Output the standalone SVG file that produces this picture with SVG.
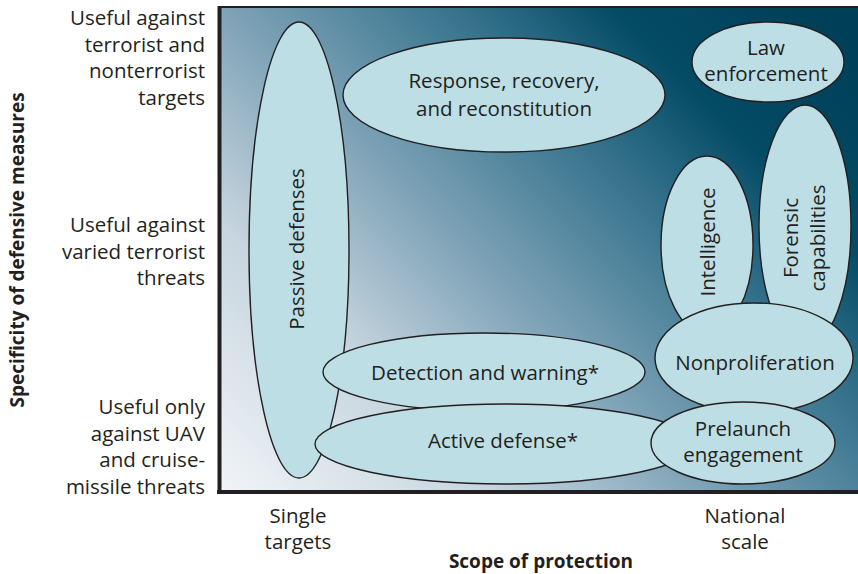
<svg xmlns="http://www.w3.org/2000/svg" width="858" height="574" viewBox="0 0 858 574">
  <defs>
    <!-- 45-degree wash: pale at lower left, deep teal at upper right -->
    <linearGradient id="field" gradientUnits="userSpaceOnUse" x1="220" y1="490" x2="760" y2="-50">
      <stop offset="0" stop-color="#f1f4f7"/>
      <stop offset="0.25" stop-color="#c6d5df"/>
      <stop offset="0.44" stop-color="#82a5b9"/>
      <stop offset="0.6" stop-color="#4a8199"/>
      <stop offset="0.69" stop-color="#2e6c86"/>
      <stop offset="0.81" stop-color="#044b65"/>
      <stop offset="1" stop-color="#003f58"/>
    </linearGradient>
  </defs>
  <style>
    .area { fill: #bddee5; stroke: #231f20; stroke-width: 1.4; }
    .lbl { font-family: "Open Sans", "Noto Sans", "DejaVu Sans", sans-serif; font-size: 20.5px; fill: #231f20; text-anchor: middle; }
    .tick { font-family: "Open Sans", "Noto Sans", "DejaVu Sans", sans-serif; font-size: 20.5px; fill: #231f20; text-anchor: end; }
    .tickc { font-family: "Open Sans", "Noto Sans", "DejaVu Sans", sans-serif; font-size: 20.5px; fill: #231f20; text-anchor: middle; }
    .axis { font-family: "Open Sans", "Noto Sans", "DejaVu Sans", sans-serif; font-size: 19px; font-weight: bold; fill: #231f20; text-anchor: middle; }
  </style>

  <rect width="858" height="574" fill="#ffffff"/>

  <!-- plot field and frame -->
  <g id="plot">
    <rect x="219" y="7" width="639" height="484" fill="url(#field)"/>
    <line x1="219" y1="7" x2="858" y2="7" stroke="#231f20" stroke-width="2"/>
    <line x1="219.5" y1="6" x2="219.5" y2="494" stroke="#231f20" stroke-width="4"/>
    <line x1="217" y1="492" x2="858" y2="492" stroke="#231f20" stroke-width="4"/>
  </g>

  <!-- vertical axis: categories and title -->
  <g id="y-axis">
    <text class="tick" x="205"><tspan x="205" y="25">Useful against</tspan><tspan x="205" y="51.5">terrorist and</tspan><tspan x="205" y="78">nonterrorist</tspan><tspan x="205" y="104.5">targets</tspan></text>
    <text class="tick" x="205"><tspan x="205" y="232">Useful against</tspan><tspan x="205" y="258.5">varied terrorist</tspan><tspan x="205" y="285">threats</tspan></text>
    <text class="tick" x="205"><tspan x="205" y="414">Useful only</tspan><tspan x="205" y="440.5">against UAV</tspan><tspan x="205" y="467">and cruise-</tspan><tspan x="205" y="493.5">missile threats</tspan></text>
    <text class="axis" transform="translate(24,250) rotate(-90)">Specificity of defensive measures</text>
  </g>

  <!-- horizontal axis: ends and title -->
  <g id="x-axis">
    <text class="tickc"><tspan x="298" y="523">Single</tspan><tspan x="298" y="549">targets</tspan></text>
    <text class="tickc"><tspan x="745" y="523">National</tspan><tspan x="745" y="549">scale</tspan></text>
    <text class="axis" x="541" y="568">Scope of protection</text>
  </g>

  <!-- measure regions -->
  <g id="passive-defenses">
    <ellipse class="area" cx="299" cy="250" rx="50" ry="228"/>
    <text class="lbl" transform="translate(304,249) rotate(-90)">Passive defenses</text>
  </g>
  <g id="response-recovery">
    <ellipse class="area" cx="504" cy="95" rx="161" ry="57"/>
    <text class="lbl"><tspan x="504" y="88">Response, recovery,</tspan><tspan x="504" y="115.5">and reconstitution</tspan></text>
  </g>
  <g id="law-enforcement">
    <ellipse class="area" cx="768" cy="62" rx="76" ry="40"/>
    <text class="lbl"><tspan x="766" y="55">Law</tspan><tspan x="766" y="81">enforcement</tspan></text>
  </g>
  <g id="intelligence">
    <ellipse class="area" cx="707" cy="245" rx="46" ry="89"/>
    <text class="lbl" transform="translate(715,242) rotate(-90)">Intelligence</text>
  </g>
  <g id="forensic-capabilities">
    <ellipse class="area" cx="805" cy="226" rx="46" ry="121"/>
    <text class="lbl" transform="rotate(-90 798 238)"><tspan x="798" y="238">Forensic</tspan><tspan x="798" y="265">capabilities</tspan></text>
  </g>
  <g id="nonproliferation">
    <ellipse class="area" cx="754" cy="358" rx="99" ry="55"/>
    <text class="lbl" x="755" y="370">Nonproliferation</text>
  </g>
  <g id="detection-warning">
    <ellipse class="area" cx="484" cy="372" rx="161" ry="39"/>
    <text class="lbl" x="485" y="380">Detection and warning*</text>
  </g>
  <g id="active-defense">
    <ellipse class="area" cx="505" cy="444" rx="190" ry="40"/>
    <text class="lbl" x="503" y="448">Active defense*</text>
  </g>
  <g id="prelaunch-engagement">
    <ellipse class="area" cx="743" cy="443" rx="92" ry="41"/>
    <text class="lbl"><tspan x="743" y="436">Prelaunch</tspan><tspan x="743" y="462">engagement</tspan></text>
  </g>

  <!-- no connectors in this figure -->
  <g id="connectors"/>
</svg>
